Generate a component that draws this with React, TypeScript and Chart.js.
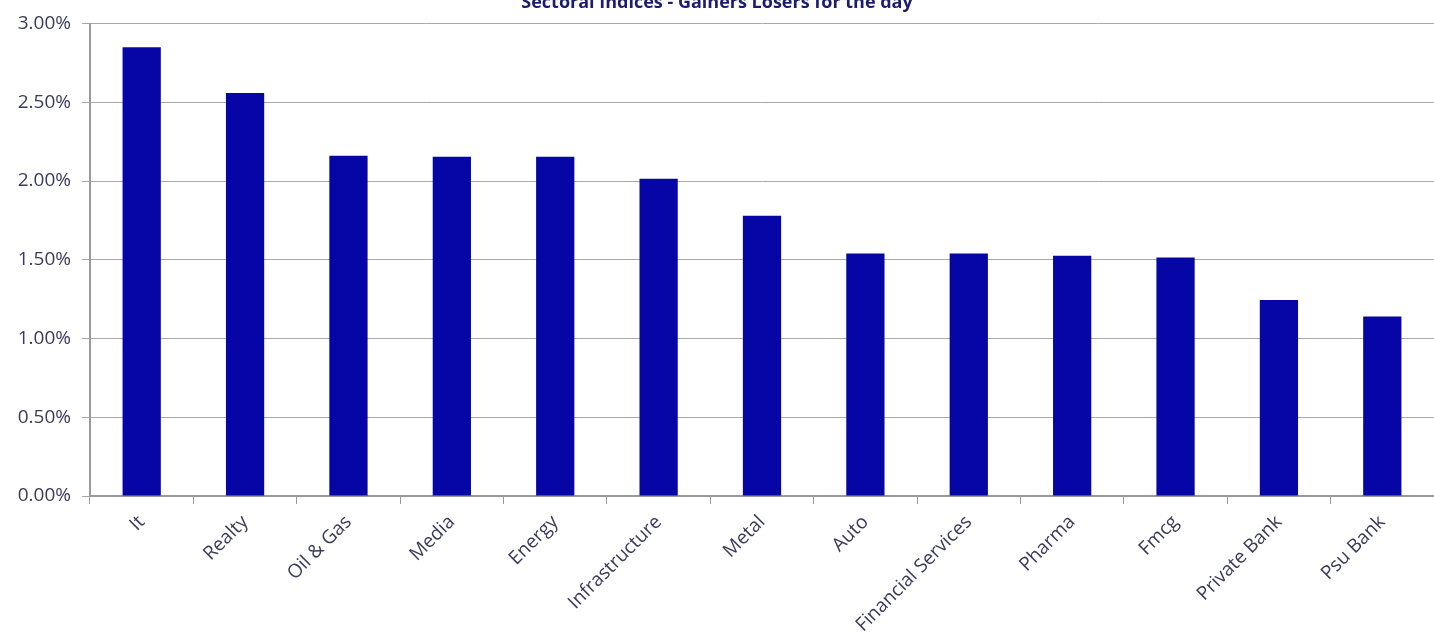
import React, { useEffect, useRef } from "react";
import { Chart, registerables } from "chart.js";

Chart.register(...registerables);

const categories = ["It", "Realty", "Oil & Gas", "Media", "Energy", "Infrastructure", "Metal", "Auto", "Financial Services", "Pharma", "Fmcg", "Private Bank", "Psu Bank"];
const changes = [2.85, 2.56, 2.16, 2.155, 2.155, 2.015, 1.78, 1.54, 1.54, 1.525, 1.515, 1.245, 1.14];
const yTicks = [0, 0.5, 1, 1.5, 2, 2.5, 3];
const titleText = "Sectoral Indices - Gainers Losers for the day";

const TOP_OFFSET = 8;

export default function App() {
  const ref = useRef<HTMLCanvasElement | null>(null);
  useEffect(() => {
    if (!ref.current) return;
    const chart = new Chart(ref.current, {
      type: "bar",
      data: {
        labels: categories,
        datasets: [
          {
            data: changes,
            backgroundColor: "#0606A6",
            borderWidth: 0,
            categoryPercentage: 0.74,
            barPercentage: 0.5,
          },
        ],
      },
      options: {
        responsive: false,
        animation: false,
        devicePixelRatio: 1,
        layout: { padding: { top: 0, right: 0, bottom: 0, left: 0 } },
        plugins: {
          legend: { display: false },
          tooltip: { enabled: false },
          title: {
            display: true,
            text: titleText,
            color: "#1c1c70",
            font: { family: "'Open Sans', 'Noto Sans', sans-serif", size: 18, weight: "bold" },
            padding: { top: 0, bottom: 10 },
          },
        },
        scales: {
          x: {
            grid: { display: true, drawOnChartArea: false, color: "#9a9a9a", tickLength: 8, offset: true },
            border: { display: true, color: "#9a9a9a", width: 2 },
            ticks: {
              autoSkip: false,
              maxRotation: 45,
              minRotation: 45,
              color: "#3a3a5e",
              font: { family: "'Open Sans', 'Noto Sans', sans-serif", size: 19 },
              padding: 7,
            },
            afterFit: (s: any) => { s.height = 143; },
          },
          y: {
            min: 0,
            max: 3,
            afterBuildTicks: (s: any) => { s.ticks = yTicks.map((v) => ({ value: v })); },
            grid: { color: "#a8a8a8", tickLength: 8, lineWidth: 1 },
            border: { display: true, color: "#9a9a9a", width: 2 },
            ticks: {
              color: "#3a3a5e",
              font: { family: "'Open Sans', 'Noto Sans', sans-serif", size: 19 },
              padding: 11,
              callback: (v: any) => Number(v).toFixed(2) + "%",
            },
            afterFit: (s: any) => { s.width = 90; },
          },
        },
      },
    });
    return () => chart.destroy();
  }, []);
  return (
    <div style={{ position: "absolute", left: 0, top: -TOP_OFFSET, width: 1434, height: 639 + TOP_OFFSET, overflow: "hidden" }}>
      <canvas ref={ref} width={1434} height={639 + TOP_OFFSET} style={{ display: "block" }} />
    </div>
  );
}
